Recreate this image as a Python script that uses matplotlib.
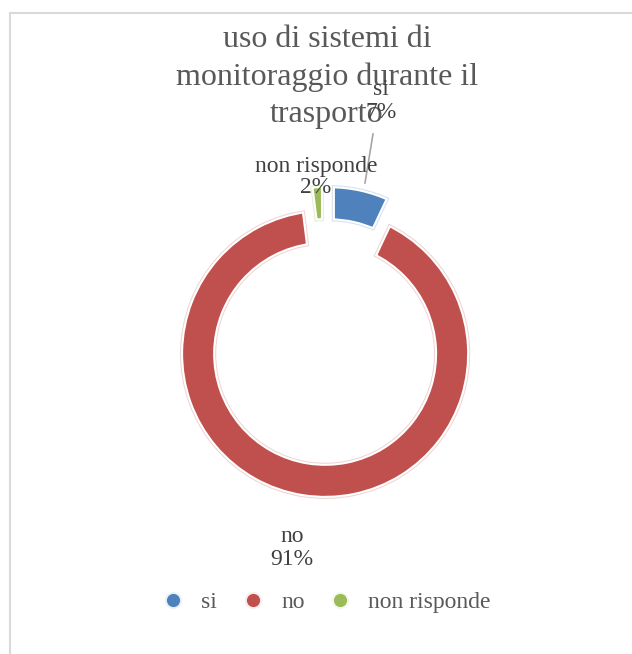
import matplotlib
matplotlib.use("Agg")
import matplotlib.pyplot as plt
from matplotlib.lines import Line2D
from matplotlib.patches import Rectangle
import matplotlib.colors as mcolors

categories = ["si", "no", "non risponde"]
values = [7, 91, 2]
pct_labels = ["7%", "91%", "2%"]
colors = ["#4F81BD", "#C0504D", "#9BBB59"]
title = "uso di sistemi di\nmonitoraggio durante il\ntrasporto"

W, H = 632, 654
DPI = 100
plt.rcParams['font.family'] = ['Liberation Serif', 'DejaVu Serif']
fig = plt.figure(figsize=(W / DPI, H / DPI), dpi=DPI)
fig.patch.set_facecolor("white")

def fx(x):
    return x / W

def fy(y):
    return 1 - y / H

def px2pt(p):
    return p * 72.0 / DPI

# chart area border (continues off the right and bottom edges)
fig.patches.append(Rectangle((fx(9.5), fy(700)), fx(700), fy(13) - fy(700),
                             transform=fig.transFigure, fill=False,
                             edgecolor="#D9D9D9", linewidth=1.5))

# ring geometry (pixels)
h = 5.3                 # white border half-width
R_out = 142 + h
R_in = 112 - h
d_expl = 12.0
cx, cy = 327, 342
side = 3 * R_out
ax = fig.add_axes([fx(cx - side / 2), fy(cy + side / 2), side / W, side / H])

ring_w = (R_out - R_in) / R_out
explode = [d_expl / R_out] * len(values)

def lighten(c, f):
    r, g, b = mcolors.to_rgb(c)
    return (r + (1 - r) * f, g + (1 - g) * f, b + (1 - b) * f)

common = dict(radius=1, startangle=90, counterclock=False, explode=explode)
# filled segments with wide white border
w1, _ = ax.pie(values, colors=colors,
               wedgeprops=dict(width=ring_w, linewidth=px2pt(2 * h), edgecolor="white"),
               **common)
# pale outline (clipped to each segment)
w2, _ = ax.pie(values, colors=colors,
               wedgeprops=dict(width=ring_w, linewidth=px2pt(2 * (h - 2.1)),
                               fill=False), **common)
for w, base, c in zip(w2, w1, colors):
    w.set_edgecolor(lighten(c, 0.75))
    w.set_clip_on(True)
    w.set_clip_path(base)
# inner white
w3, _ = ax.pie(values, colors=colors,
               wedgeprops=dict(width=ring_w, linewidth=px2pt(2 * (h - 3.1)),
                               fill=False, edgecolor="white"), **common)

ax.set_xlim(-1.5, 1.5)
ax.set_ylim(-1.5, 1.5)
ax.set_aspect("equal")
ax.axis("off")

# title
fig.text(fx(327), fy(77), title, ha="center", va="center", fontsize=23,
         color="#595959", linespacing=1.36)

# data labels
lab_col = "#404040"
fig.text(fx(381), fy(101), categories[0] + "\n" + pct_labels[0], ha="center",
         va="center", fontsize=17, color=lab_col, linespacing=1.1)
fig.text(fx(316), fy(177), categories[2] + "\n" + pct_labels[2], ha="center",
         va="center", fontsize=17, color=lab_col, linespacing=1.05)
fig.text(fx(292), fy(548), categories[1] + "\n" + pct_labels[1], ha="center",
         va="center", fontsize=17, color=lab_col, linespacing=1.15)

# leader line for "si"
fig.add_artist(Line2D([fx(365), fx(373)], [fy(183), fy(134)],
                      transform=fig.transFigure, color="#A6A6A6", linewidth=1.2))

handles = [Line2D([], [], linestyle="none", marker="o", markersize=11,
                  markerfacecolor=c, markeredgecolor=lighten(c, 0.9),
                  markeredgewidth=1.5) for c in colors]
leg = fig.legend(handles, categories, loc="center", bbox_to_anchor=(fx(326), fy(602)),
                 ncol=3, frameon=False, fontsize=17, handlelength=1.0,
                 handletextpad=0.7, columnspacing=1.0, labelcolor="#595959")

fig.savefig("out.png", dpi=DPI, facecolor="white")
